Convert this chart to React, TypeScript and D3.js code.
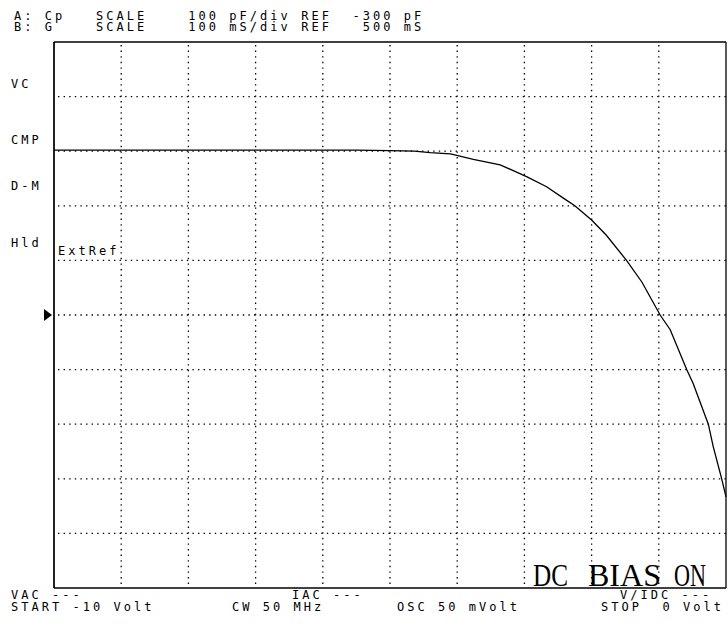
import React from "react";
import * as d3 from "d3";

const biasVolt = [-10, -7, -5.5, -5, -4.64, -4.4, -4.1, -3.76, -3.36, -2.96, -2.67, -2.42, -2.25, -2.0, -1.78, -1.48, -1.25, -0.98, -0.83, -0.585, -0.49, -0.263, -0.19, -0.064, 0];
const cpPf = [2, 2, 1.8, 1, 0, -2.7, -5, -15, -25, -47, -65, -86, -100, -126, -154, -200, -240, -300, -327, -400, -425, -500, -541, -600, -633];

const xDomain = [-10, 0];
const yDomain = [-800, 200];
const refPf = -300;

const headerLines = [
  "A: Cp   SCALE    100 pF/div REF  -300 pF",
  "B: G    SCALE    100 mS/div REF   500 mS",
];
const sideLabels = ["VC", "CMP", "D-M", "Hld"];
const biasWords = [
  { t: "DC", x: 533, w: 35 },
  { t: "BIAS", x: 588, w: 73 },
  { t: "ON", x: 674, w: 32 },
];
const footerTop = [
  { t: "VAC ---", x: 11 },
  { t: "IAC ---", x: 292 },
  { t: "V/IDC ---", x: 620 },
];
const footerBottom = [
  { t: "START -10 Volt", x: 11 },
  { t: "CW 50 MHz", x: 232 },
  { t: "OSC 50 mVolt", x: 397 },
  { t: "STOP  0 Volt", x: 601 },
];

const W = 728;
const H = 627;
const L = 54, R = 726, T = 42, B = 588;

const mono: React.CSSProperties = {
  fontFamily: "'DejaVu Sans Mono', monospace",
  fontSize: 12,
  letterSpacing: "3.03px",
  whiteSpace: "pre",
};

export default function App() {
  const x = d3.scaleLinear().domain(xDomain).range([L, R]);
  const y = d3.scaleLinear().domain(yDomain).range([B, T]);
  const xTicks = d3.range(-9, 0, 1);
  const yTicks = d3.range(-700, 200, 100);
  const pts = biasVolt.map((v, i) => [v, cpPf[i]] as [number, number]);
  const line = d3.line<[number, number]>().x((d) => x(d[0])).y((d) => y(d[1]));
  const yRef = y(refPf);
  const sideY = [87.5, 143.5, 190, 247];

  return (
    <svg width={W} height={H} style={{ position: "absolute", left: 0, top: 0, background: "#fff" }}>
      <rect x={0} y={0} width={W} height={H} fill="#fff" />
      {headerLines.map((s, i) => (
        <text key={i} x={14} y={19.5 + i * 11} style={mono} xmlSpace="preserve" fill="#000">
          {s}
        </text>
      ))}
      {xTicks.map((v) => (
        <line key={"gx" + v} x1={x(v)} x2={x(v)} y1={T + 3} y2={B} stroke="#000" strokeWidth={1.3} strokeDasharray="1.4 4.2" />
      ))}
      {yTicks.map((v) => (
        <line key={"gy" + v} x1={L + 4} x2={R} y1={y(v)} y2={y(v)} stroke="#000" strokeWidth={1.3} strokeDasharray="1.4 4.2" />
      ))}
      <line x1={L} x2={L} y1={T} y2={B} stroke="#222" strokeWidth={2} />
      <line x1={L} x2={R} y1={T} y2={T} stroke="#000" strokeWidth={1.3} />
      <line x1={L} x2={R} y1={B} y2={B} stroke="#000" strokeWidth={1.5} />
      <line x1={R} x2={R} y1={T} y2={B} stroke="#000" strokeWidth={1.3} />
      <path d={line(pts) || ""} fill="none" stroke="#000" strokeWidth={1.3} />
      {sideLabels.map((s, i) => (
        <text key={s} x={11} y={sideY[i]} style={mono} fill="#000">
          {s}
        </text>
      ))}
      <text x={58} y={255} style={mono} fill="#000">ExtRef</text>
      <path d={`M44,${yRef - 6} L52,${yRef} L44,${yRef + 6} Z`} fill="#000" />
      {biasWords.map((b) => (
        <text key={b.t} x={b.x} y={586} textLength={b.w} lengthAdjust="spacingAndGlyphs" fill="#000"
          style={{ fontFamily: "'Liberation Serif', serif", fontSize: 31 }}>
          {b.t}
        </text>
      ))}
      {footerTop.map((f) => (
        <text key={f.t} x={f.x} y={599} style={mono} xmlSpace="preserve" fill="#000">{f.t}</text>
      ))}
      {footerBottom.map((f) => (
        <text key={f.t} x={f.x} y={611} style={mono} xmlSpace="preserve" fill="#000">{f.t}</text>
      ))}
    </svg>
  );
}
